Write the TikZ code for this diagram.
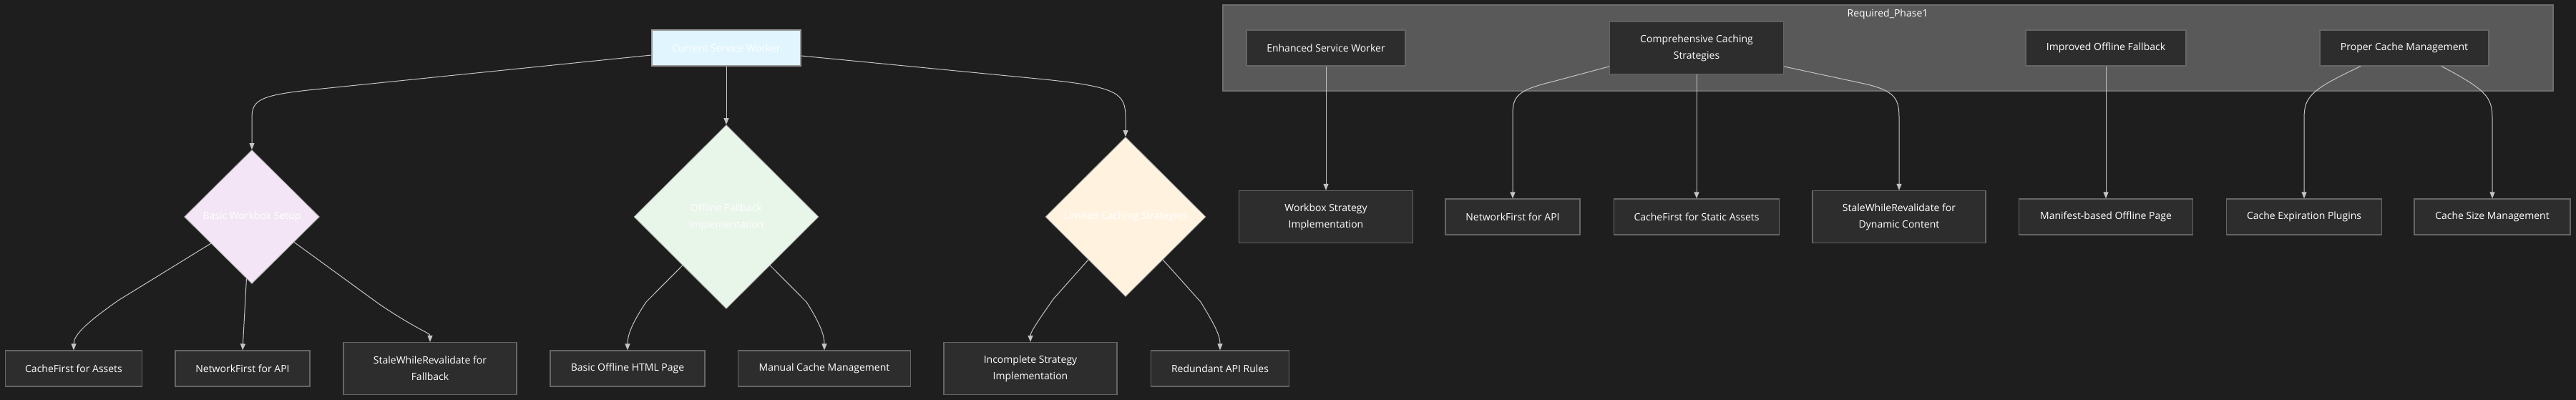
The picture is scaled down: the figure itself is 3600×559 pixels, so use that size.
\documentclass[tikz,border=0pt]{standalone}
\usepackage{fontspec}
\setmainfont{Open Sans}
\usetikzlibrary{arrows.meta,shapes.geometric}
\definecolor{canvas}{HTML}{1E1E1E}
\definecolor{boxfill}{HTML}{2D2D2D}
\definecolor{boxline}{HTML}{666666}
\definecolor{phasefill}{HTML}{595959}
\definecolor{phaseline}{HTML}{6E6E6E}
\definecolor{wire}{HTML}{C4C4C4}
\definecolor{rootfill}{HTML}{E1F5FE}
\definecolor{setupfill}{HTML}{F3E5F5}
\definecolor{offlinefill}{HTML}{E8F5E9}
\definecolor{limitfill}{HTML}{FFF3E0}

\begin{document}
\begin{tikzpicture}[x=1pt,y=-1pt,
		font=\fontsize{14}{23}\selectfont,
		darkbox/.style={draw=boxline,line width=1.2pt,fill=boxfill,text=white,align=center,minimum height=50pt,inner sep=0pt},
		rootbox/.style={darkbox,fill=rootfill,draw=gray!80},
		decision/.style={diamond,aspect=1,draw=gray!75,line width=0.8pt,text=white,align=center,inner sep=0pt},
		edgeline/.style={draw=wire,line width=1pt,-{Triangle[length=9pt,width=7pt]}}]
		%%%%% START %%%%%
		
		\useasboundingbox (0,0) rectangle (3600,559);
		\fill[canvas] (0,0) rectangle (3600,559);
		
		% current state
		\node[rootbox,minimum width=208pt] (csw) at (1015,67) {Current Service Worker};
		
		\node[decision,fill=setupfill,minimum width=189pt,minimum height=187pt] (bws) at (352,303) {Basic Workbox Setup};
		\node[decision,fill=offlinefill,minimum width=258pt,minimum height=257pt] (ofi) at (1015,303) {Offline Fallback\\Implementation};
		\node[decision,fill=limitfill,minimum width=224pt,minimum height=223pt] (lcs) at (1573,303) {Limited Caching Strategies};
		
		\node[darkbox,minimum width=191pt] (cfa) at (103,515) {CacheFirst for Assets};
		\node[darkbox,minimum width=188pt] (nfa) at (339,515) {NetworkFirst for API};
		\node[darkbox,minimum width=242pt,minimum height=73pt] (swf) at (601,515) {StaleWhileRevalidate for\\Fallback};
		\node[darkbox,minimum width=216pt] (bhp) at (877,515) {Basic Offline HTML Page};
		\node[darkbox,minimum width=241pt] (mcm) at (1152,515) {Manual Cache Management};
		\node[darkbox,minimum width=242pt,minimum height=73pt] (isi) at (1440,515) {Incomplete Strategy\\Implementation};
		\node[darkbox,minimum width=193pt] (rar) at (1705,515) {Redundant API Rules};
		
		\draw[edgeline] (csw.west |- 0,77) -- (440,125) .. controls (362,133) and (352,140) .. (352,165) -- (bws.north);
		\draw[edgeline] (csw.south) -- (ofi.north);
		\draw[edgeline] (csw.east |- 0,78) -- (1450,110) .. controls (1563,121) and (1573,130) .. (1573,165) -- (lcs.north);
		
		\draw[edgeline] (bws.213) -- (165,420) .. controls (115,455) and (103,470) .. (cfa.north);
		\draw[edgeline] (bws.265) -- (nfa.north);
		\draw[edgeline] (bws.329) -- (530,425) .. controls (585,462) and (601,465) .. (swf.north);
		
		\draw[edgeline] (ofi.228) -- (903,422) .. controls (881,455) and (877,470) .. (bhp.north);
		\draw[edgeline] (ofi.312) -- (1127,422) .. controls (1148,455) and (1152,470) .. (mcm.north);
		
		\draw[edgeline] (lcs.229) -- (1472,418) .. controls (1446,455) and (1440,465) .. (isi.north);
		\draw[edgeline] (lcs.311) -- (1678,422) .. controls (1700,458) and (1705,470) .. (rar.north);
		
		% required phase 1
		\draw[fill=phasefill,draw=phaseline,line width=1.2pt] (1709,7) rectangle (3568,127);
		\node[text=white] (phase) at (2638,20) {Required\_Phase1};
		
		\node[darkbox,minimum width=222pt] (esw) at (1853,67) {Enhanced Service Worker};
		\node[darkbox,minimum width=243pt,minimum height=73pt] (ccs) at (2371,67) {Comprehensive Caching\\Strategies};
		\node[darkbox,minimum width=224pt] (iof) at (2943,67) {Improved Offline Fallback};
		\node[darkbox,minimum width=236pt] (pcm) at (3360,67) {Proper Cache Management};
		
		\node[darkbox,minimum width=243pt,minimum height=73pt] (wsi) at (1853,303) {Workbox Strategy\\Implementation};
		\node[darkbox,minimum width=188pt] (nfb) at (2114,303) {NetworkFirst for API};
		\node[darkbox,minimum width=231pt] (cfs) at (2371,303) {CacheFirst for Static Assets};
		\node[darkbox,minimum width=242pt,minimum height=73pt] (swd) at (2654,303) {StaleWhileRevalidate for\\Dynamic Content};
		\node[darkbox,minimum width=243pt] (mop) at (2943,303) {Manifest-based Offline Page};
		\node[darkbox,minimum width=217pt] (cep) at (3220,303) {Cache Expiration Plugins};
		\node[darkbox,minimum width=218pt] (csm) at (3483,303) {Cache Size Management};
		
		\draw[edgeline] (esw.south) -- (wsi.north);
		\draw[edgeline] (ccs.192) -- (2170,114) .. controls (2120,126) and (2114,135) .. (2114,160) -- (nfb.north);
		\draw[edgeline] (ccs.south) -- (cfs.north);
		\draw[edgeline] (ccs.348) -- (2610,118) .. controls (2650,128) and (2654,140) .. (2654,165) -- (swd.north);
		\draw[edgeline] (iof.south) -- (mop.north);
		\draw[edgeline] ([xshift=-61pt]pcm.south) .. controls (3230,125) and (3220,135) .. (3220,165) -- (cep.north);
		\draw[edgeline] ([xshift=52pt]pcm.south) .. controls (3473,125) and (3483,135) .. (3483,165) -- (csm.north);
		
		%%%%% END %%%%%
	\end{tikzpicture}
\end{document}
